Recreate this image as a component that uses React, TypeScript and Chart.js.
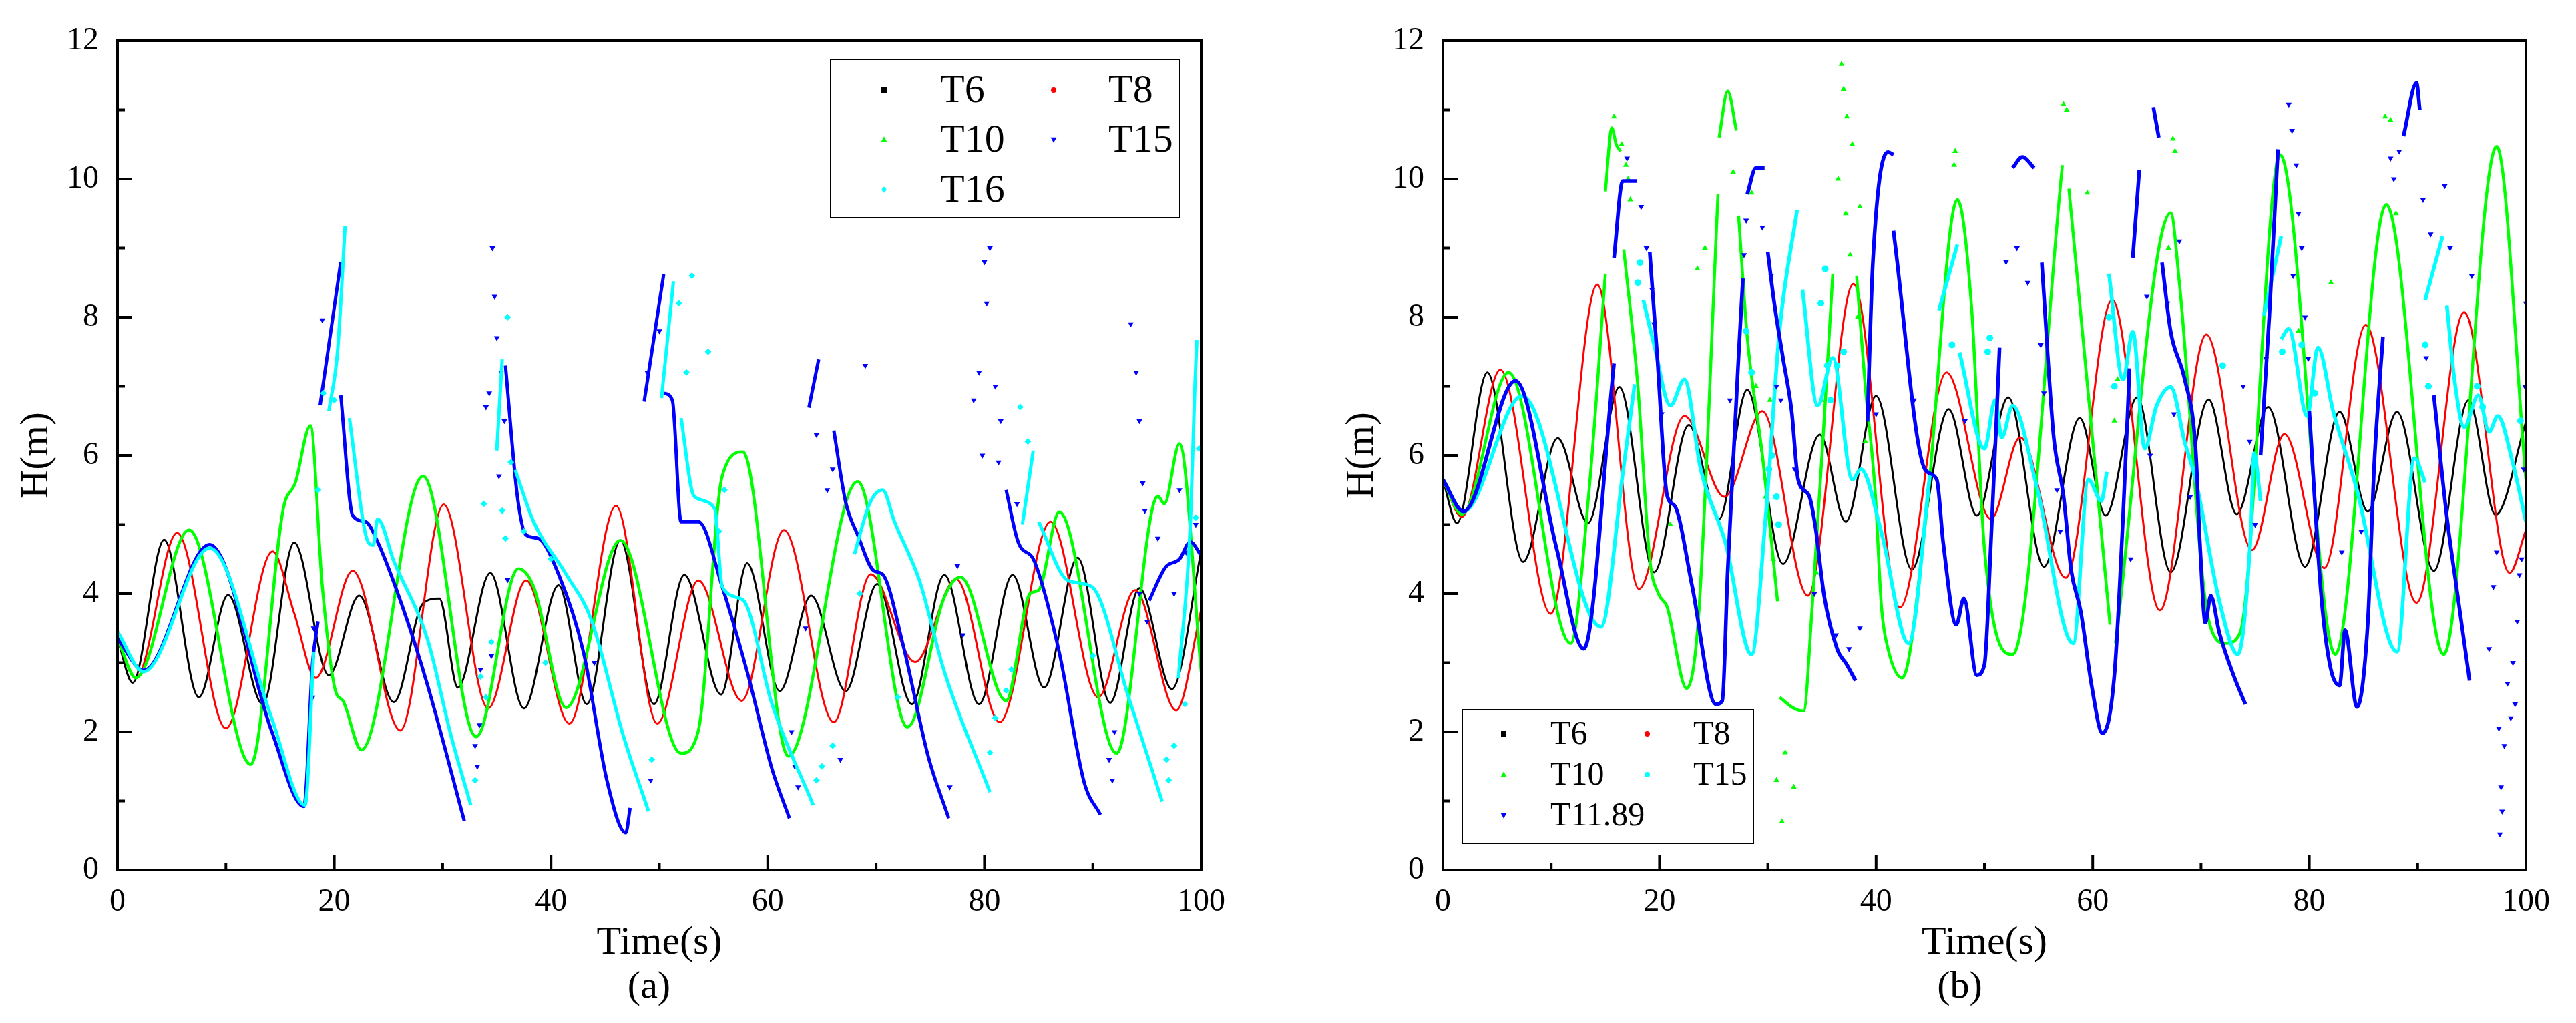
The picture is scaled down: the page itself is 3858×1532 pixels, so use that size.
import React, { useEffect, useRef } from 'react';
import { Chart, registerables } from 'chart.js';

Chart.register(...registerables);

type P = [number, number] | null;

// ---------------- Panel (a) ----------------
const A_T6: P[] = [[0,3.35],[1.4,2.71],[4.3,4.78],[7.5,2.5],[10.2,3.98],[13.4,2.4],[16.3,4.74],[19.5,2.82],[22.3,3.97],[25.5,2.43],[28.2,3.86],[29.7,3.93],[31.4,2.64],[34.4,4.3],[37.5,2.34],[40.7,4.12],[43.3,2.4],[46.4,4.77],[49.5,2.4],[52.3,4.27],[55.7,2.54],[58.1,4.44],[61.1,2.59],[64.0,3.97],[67.2,2.59],[70.1,4.14],[73.3,2.4],[76.3,4.27],[79.5,2.4],[82.6,4.27],[85.5,2.64],[88.6,4.52],[91.6,2.42],[94.3,4.08],[97.3,2.62],[100,4.61]];

const A_T8: P[] = [[0,3.35],[1.7,2.78],[5.5,4.88],[10.0,2.05],[14.3,4.61],[16.3,3.72],[18.3,2.78],[21.7,4.33],[26.1,2.02],[30.1,5.29],[34.2,2.34],[37.7,4.19],[41.7,2.12],[46.0,5.27],[49.8,2.12],[53.6,4.19],[57.6,2.45],[61.5,4.92],[66.1,2.14],[69.5,4.28],[73.6,3.01],[77.4,4.21],[81.4,2.14],[86.1,5.04],[90.5,2.5],[93.9,4.05],[97.7,2.31],[100,3.77]];

const A_T10: P[] = [[0,3.35],[1.7,2.78],[6.6,4.92],[12.3,1.53],[15.3,5.23],[16.4,5.6],[17.8,6.43],[18.9,4.1],[20.1,2.6],[20.8,2.45],[22.5,1.74],[28.2,5.7],[33.1,1.93],[37.0,4.36],[38.4,4.1],[41.4,2.35],[46.4,4.77],[52.0,1.69],[53.6,2.02],[55.8,5.7],[57.7,6.05],[61.9,1.65],[68.3,5.62],[72.9,2.07],[76.3,3.95],[77.8,4.24],[82.0,2.45],[84.2,4.0],[85.0,4.05],[86.9,5.18],[92.2,1.69],[96.0,5.41],[96.6,5.3],[98.0,6.17],[100,2.87]];

const A_T15: P[] = [[0,3.35],[2.4,2.89],[8.5,4.71],[14.2,2.02],[17.2,0.92],[18.0,3.0],[18.5,3.6],null,
  [18.7,6.73],[19.5,7.6],[20.6,8.8],null,
  [20.6,6.87],[21.7,5.13],[22.9,5.04],[24.0,4.75],[26.3,3.81],[28.6,2.68],[32.0,0.71],null,
  [35.8,7.3],[36.9,5.41],[37.7,4.85],[38.8,4.8],[40.7,4.28],[43.0,3.15],[45.2,1.27],[46.9,0.54],[47.3,0.9],null,
  [48.6,6.78],[50.4,8.62],null,
  [50.4,6.9],[51.2,6.8],[52.0,5.04],[53.6,5.04],[55.8,4.1],[58.1,2.87],[60.4,1.46],[62.0,0.75],null,
  [63.8,6.69],[64.7,7.39],null,
  [66.1,6.36],[67.2,5.32],[68.3,4.85],[69.8,4.33],[70.6,4.28],[72.5,3.25],[74.8,1.65],[76.7,0.75],null,
  [82.0,5.5],[83.1,4.75],[84.6,4.47],[86.9,3.15],[89.2,1.27],[90.7,0.8],null,
  [95.2,3.9],[96.7,4.38],[98.0,4.5],[99.0,4.75],[100,4.55]];

const A_T15_DOTS: P[] = [[18.9,7.96],[18.1,3.5],[18.0,2.5],[33.0,1.8],[33.2,1.5],[33.4,2.1],[34.0,6.7],[34.3,6.9],[34.6,9.0],[34.8,8.3],[35.0,7.7],[35.4,7.2],[35.7,6.5],[35.2,5.7],[34.5,3.1],[33.5,2.9],[36.0,4.2],[44.0,3.0],[49.2,1.3],[48.9,7.2],[50.0,7.8],[62.5,1.5],[62.8,1.2],[62.2,2.0],[63.5,3.5],[64.5,6.3],[65.5,5.5],[66.0,5.8],[66.7,1.6],[69.0,7.3],[76.8,1.2],[77.5,4.4],[78.0,3.4],[79.0,6.8],[79.5,7.2],[80.0,8.8],[80.5,9.0],[80.2,8.2],[81.0,7.0],[81.5,6.5],[79.8,6.0],[81.3,5.9],[83.0,5.3],[91.5,1.6],[91.8,1.3],[92.0,2.0],[93.5,7.9],[94.0,7.2],[94.3,6.5],[94.6,5.6],[94.8,5.2],[94.3,4.0],[95.0,3.6],[96.0,4.8],[97.5,4.0],[98.6,4.6],[99.5,5.0],[98.0,5.5]];

const A_T16: P[] = [[0,3.45],[2.4,2.87],[8.5,4.66],[14.2,2.21],[17.3,0.94],[18.1,3.15],null,
  [19.5,6.64],[20.3,7.5],[21.0,9.32],null,
  [21.4,6.54],[22.9,4.85],[23.6,4.7],[24.0,5.08],[25.5,4.47],[28.6,3.34],[30.8,1.93],[32.6,0.94],null,
  [35.0,6.07],[35.5,7.39],null,
  [36.7,5.79],[38.4,5.04],[41.4,4.28],[43.7,3.63],[46.7,1.93],[49.0,0.85],null,
  [50.2,6.83],[51.3,8.52],null,
  [52.0,6.54],[53.2,5.41],[55.1,5.23],[55.8,4.1],[57.7,3.91],[60.4,2.4],[64.2,0.94],null,
  [68.0,4.57],[69.4,5.3],[70.6,5.5],[71.7,5.04],[74.0,4.19],[76.3,2.87],[80.5,1.13],null,
  [83.5,5.0],[84.5,6.07],null,
  [85.0,5.04],[87.7,4.19],[89.9,4.1],[93.3,2.5],[96.4,0.99],null,
  [97.9,2.78],[99.0,5.0],[99.4,6.92],[99.6,7.67]];

const A_T16_DOTS: P[] = [[18.5,5.5],[19.0,6.9],[20.0,6.8],[33.5,2.8],[34.0,2.5],[34.5,3.3],[33.0,1.3],[35.5,5.2],[35.8,4.8],[36.0,8.0],[36.3,5.9],[33.8,5.3],[37.5,4.9],[39.5,3.0],[40.0,4.5],[51.8,8.2],[52.5,7.2],[53.0,8.6],[54.5,7.5],[56.0,5.5],[55.5,4.9],[49.3,1.6],[65.0,1.5],[66.0,1.8],[64.5,1.3],[68.5,4.0],[72.0,2.5],[80.5,1.7],[81.0,2.2],[82.0,2.6],[82.5,2.9],[83.3,6.7],[84.0,6.2],[90.0,3.1],[96.8,1.6],[97.0,1.3],[97.5,1.8],[98.5,2.4],[99.5,5.1],[99.8,6.1]];

// ---------------- Panel (b) ----------------
const B_T6: P[] = [[0,5.65],[1.3,5.02],[4.1,7.2],[7.4,4.46],[10.6,6.25],[13.4,5.02],[16.3,6.99],[19.5,4.31],[22.7,6.44],[25.5,5.08],[28.1,6.95],[31.4,4.43],[34.8,6.3],[37.2,5.04],[40.0,6.86],[43.3,4.35],[46.7,6.67],[49.3,5.13],[52.2,6.84],[55.5,4.39],[58.8,6.54],[61.2,5.13],[64.1,6.84],[67.2,4.31],[70.7,6.81],[73.3,5.15],[76.2,6.7],[79.6,4.39],[82.8,6.63],[85.4,5.19],[88.1,6.63],[91.5,4.33],[94.7,6.8],[97.2,5.14],[100,6.48]];

const B_T8: P[] = [[0,5.65],[1.75,5.11],[5.3,7.24],[9.95,3.71],[14.25,8.47],[18.1,4.07],[22.3,6.57],[26.0,5.4],[29.5,6.64],[33.7,3.97],[37.9,8.48],[42.2,3.8],[46.5,7.2],[50.6,5.08],[53.3,6.26],[57.5,4.23],[61.8,8.25],[66.2,3.76],[70.5,7.75],[74.7,4.63],[77.7,6.31],[81.4,4.37],[85.2,7.89],[89.9,3.87],[94.3,8.07],[98.5,4.3],[100,4.92]];

const B_T10: P[] = [[0,5.65],[1.75,5.15],[6.05,7.2],[11.8,3.28],[13.5,5.5],[15.0,8.63],null,
  [15.0,9.82],[15.6,10.74],[16.0,10.5],[16.4,10.4],null,
  [16.7,8.98],[18.0,7.0],[19.1,4.5],[19.9,4.0],[20.7,3.81],[22.5,2.63],[23.6,3.66],[25.4,9.78],null,
  [25.5,10.6],[26.3,11.27],[27.1,10.7],null,
  [27.3,9.47],[28.1,7.71],[29.5,6.0],[30.9,3.89],null,
  [31.1,2.5],[32.3,2.35],[33.3,2.3],[34.1,3.81],[35.2,6.5],[36.0,8.63],null,
  [38.2,8.6],[39.0,7.0],[39.9,5.5],[40.5,3.8],[41.1,3.2],[42.4,2.78],[44.6,5.1],[47.5,9.7],[48.8,8.17],[50,4.65],[52.6,3.12],[57.2,10.2],null,
  [57.8,9.86],[61.6,3.55],null,
  [62.1,3.28],[67.2,9.51],[68.0,8.5],[70.7,3.62],[72.3,3.28],[73.6,3.43],[77.3,10.35],[82.4,3.12],[87.1,9.63],[92.4,3.12],[97.3,10.47],[100,5.65]];

const B_T10_DOTS: P[] = [[15.8,10.9],[16.5,10.5],[16.9,10.2],[17.3,9.7],[17.1,10.0],[23.5,8.7],[24.2,9.0],[21.0,5.0],[26.8,10.1],[28.5,9.8],[28.9,7.0],[29.8,5.4],[30.5,4.5],[30.2,6.8],[30.8,1.3],[31.3,0.7],[31.6,1.7],[32.4,1.2],[36.5,10.0],[36.8,11.66],[37.0,11.3],[37.3,10.9],[37.8,10.5],[37.2,9.5],[37.6,8.9],[38.5,9.6],[38.3,8.0],[34.5,4.3],[35.0,6.8],[39.0,6.2],[47.3,10.4],[47.2,10.2],[57.3,11.08],[57.6,11.0],[59.5,9.8],[67.4,10.58],[67.6,10.4],[67.0,9.0],[62.0,6.5],[62.3,7.1],[79.0,7.8],[87.5,10.85],[87.0,10.9],[88.0,9.5],[82.0,8.5]];

const B_T15: P[] = [[0,5.65],[1.9,5.19],[7.3,6.86],[14.6,3.52],[16.6,5.73],[17.7,7.03],null,
  [18.5,8.25],[19.5,7.6],[21.0,6.72],[22.3,7.1],[23.8,5.8],[26.1,4.73],[28.5,3.12],[29.8,5.11],[31.1,7.83],[32.7,9.55],null,
  [33.2,8.4],[34.6,6.72],[36.0,7.41],[37.8,5.65],[38.6,5.8],[40.5,4.88],[43.0,3.28],[45.0,5.76],null,
  [45.8,8.1],[47.5,9.05],null,
  [47.7,7.49],[50,6.1],[51.0,6.8],[51.6,6.26],[52.6,6.72],[54.8,5.57],[58.2,3.28],[59.6,5.65],[60.8,5.34],[61.3,5.76],null,
  [61.5,8.63],[62.8,7.1],[63.7,7.79],[64.8,6.1],[65.9,6.72],[67.2,6.99],[68.5,6.19],[69.5,5.65],[71.7,3.89],[73.4,3.12],[74.6,4.88],[74.9,6.03],[75.5,5.34],null,
  [75.8,8.02],[77.4,9.17],null,
  [77.4,7.68],[78.1,7.83],[79.8,6.57],[80.8,7.56],[82.2,6.64],[84.4,5.5],[88.1,3.16],[89.7,5.96],[90.7,5.61],null,
  [90.7,8.25],[92.3,9.17],null,
  [92.7,8.17],[93.4,7.1],[94.3,6.41],[95.6,6.87],[96.6,6.34],[97.4,6.57],[98.8,5.88],[100,5.04]];

const B_T15_DOTS: P[] = [[18.2,8.79],[18.0,8.5],[28.0,7.8],[28.5,7.2],[30.1,5.8],[30.4,6.0],[30.8,5.4],[31.0,5.0],[35.5,7.3],[35.8,6.8],[36.4,7.3],[34.9,8.2],[35.3,8.7],[37.0,7.5],[47.0,7.6],[50.3,7.5],[50.5,7.7],[61.5,8.0],[62.0,7.0],[72.0,7.3],[77.5,7.5],[79.3,7.6],[80.5,6.9],[90.7,7.6],[91.0,7.0],[95.5,7.0],[96.0,6.7],[99.5,6.5]];

const B_T1189: P[] = [[0,5.65],[1.9,5.19],[6.7,7.08],[10.5,4.65],[13.0,3.2],[15.8,7.33],null,
  [15.8,8.86],[16.6,9.97],[17.9,9.97],null,
  [19.1,8.94],[19.8,7.41],[20.7,5.42],[21.4,5.27],[23.0,4.12],[25.2,2.4],[25.8,2.45],[26.3,4.35],[27.4,7.72],[27.7,8.56],null,
  [28.1,9.78],[28.9,10.16],[29.7,10.16],null,
  [30.0,8.94],[30.6,8.2],[31.4,7.41],[32.2,6.64],[32.8,5.65],[33.8,5.42],[34.4,4.96],[35.2,3.97],[36.4,3.2],[37.3,2.97],[38.1,2.74],null,
  [39.2,6.49],[39.7,8.79],[41.1,10.39],[41.6,10.35],null,
  [41.6,9.25],[44.5,5.8],[45.6,5.65],[46.2,4.73],[47.4,3.55],[48.1,3.93],[49.3,2.82],[50,2.97],[50.6,4.73],[51.4,7.56],null,
  [52.6,10.16],[53.5,10.32],[54.6,10.16],null,
  [55.3,8.79],[56.4,6.26],[57.3,5.42],[58.0,4.35],[58.9,3.74],[59.9,2.67],[60.9,1.98],[62.0,2.82],[62.8,5.11],[63.4,7.26],null,
  [63.7,8.86],[64.3,10.13],null,
  [65.6,11.04],[66.1,10.6],null,
  [66.4,8.79],[67.2,7.79],[68.5,7.1],[69.5,6.1],[69.9,4.73],[70.4,3.58],[70.9,3.97],[71.7,3.43],[73.0,2.82],[74.1,2.4],null,
  [75.5,6.0],[76.3,8.0],[77.1,10.43],null,
  [80.0,6.64],[81.1,3.97],[81.9,2.97],[82.8,2.67],[83.3,3.47],[84.4,2.36],[85.4,3.58],[86.0,5.88],[86.8,7.72],null,
  [88.7,10.62],[89.9,11.39],[90.2,11.0],null,
  [91.5,6.87],[92.7,5.11],[93.7,3.97],[94.8,2.74]];

const B_T1189_DOTS: P[] = [[17.0,10.3],[18.3,9.6],[18.8,9.0],[19.3,8.4],[19.5,7.9],[20.2,6.6],[26.5,6.8],[27.8,8.9],[28.0,9.4],[29.5,9.3],[30.3,8.6],[30.8,7.0],[31.2,6.8],[32.5,5.8],[34.3,4.0],[36.3,3.4],[37.5,3.2],[38.5,3.5],[40.0,6.6],[43.5,6.8],[48.2,6.5],[52.0,8.8],[53.0,9.0],[54.0,8.5],[55.2,7.6],[55.5,6.9],[56.7,5.5],[57.0,4.9],[63.5,4.5],[65.0,8.3],[65.3,6.0],[66.9,8.2],[67.5,6.6],[68.0,9.1],[69.0,5.4],[73.9,7.0],[74.5,6.2],[75.0,5.0],[76.0,7.4],[78.1,11.08],[78.4,10.7],[78.8,10.2],[79.0,9.5],[79.3,9.0],[79.6,8.0],[79.9,7.4],[78.5,8.6],[83.0,4.6],[84.8,4.9],[87.5,10.3],[87.8,10.0],[88.3,10.4],[90.5,9.7],[90.8,7.41],[91.2,9.2],[92.5,9.9],[93.0,9.0],[95.0,8.6],[96.6,3.2],[97.0,4.1],[97.3,4.6],[97.5,2.05],[97.7,1.2],[97.6,0.52],[97.8,0.85],[98.0,1.8],[98.3,2.7],[98.6,2.2],[98.8,3.0],[99.0,2.4],[99.2,3.6],[99.4,4.27],[99.6,4.5],[99.8,5.8],[99.9,7.0],[100,8.2]];

// axis ranges / ticks
const X_RANGE = [0, 100];
const X_MAJOR = 20;
const X_MINOR = 10;
const Y_RANGE = [0, 12];
const Y_MAJOR = 2;
const Y_MINOR = 1;

const FONT = "'Liberation Serif', 'Times New Roman', serif";

function xy(arr: P[]) {
  const out: { x: number; y: number | null }[] = [];
  let last = 0;
  for (const p of arr) {
    if (p === null) out.push({ x: last, y: null });
    else { out.push({ x: p[0], y: p[1] }); last = p[0]; }
  }
  return out;
}

function drawMarker(ctx: CanvasRenderingContext2D, style: string, x: number, y: number, r: number, color: string) {
  ctx.fillStyle = color;
  ctx.beginPath();
  if (style === 'rect') ctx.rect(x - r, y - r, 2 * r, 2 * r);
  else if (style === 'circle') ctx.arc(x, y, r, 0, Math.PI * 2);
  else if (style === 'tri') { ctx.moveTo(x, y - r * 1.2); ctx.lineTo(x + r * 1.1, y + r * 0.8); ctx.lineTo(x - r * 1.1, y + r * 0.8); ctx.closePath(); }
  else if (style === 'dtri') { ctx.moveTo(x, y + r * 1.2); ctx.lineTo(x + r * 1.1, y - r * 0.8); ctx.lineTo(x - r * 1.1, y - r * 0.8); ctx.closePath(); }
  else { ctx.moveTo(x, y - r * 1.2); ctx.lineTo(x + r, y); ctx.lineTo(x, y + r * 1.2); ctx.lineTo(x - r, y); ctx.closePath(); }
  ctx.fill();
}

const decorPlugin = {
  id: 'decor',
  afterDraw(chart: any, _args: any, o: any) {
    const { ctx, chartArea: ca, scales } = chart;
    ctx.save();
    ctx.strokeStyle = '#000';
    ctx.lineWidth = 4;
    ctx.strokeRect(ca.left, ca.top, ca.right - ca.left, ca.bottom - ca.top);
    for (let v = X_RANGE[0]; v <= X_RANGE[1]; v += X_MINOR) {
      const px = scales.x.getPixelForValue(v);
      const len = v % X_MAJOR === 0 ? 22 : 11;
      ctx.beginPath(); ctx.moveTo(px, ca.bottom); ctx.lineTo(px, ca.bottom - len); ctx.stroke();
    }
    for (let v = Y_RANGE[0]; v <= Y_RANGE[1]; v += Y_MINOR) {
      const py = scales.y.getPixelForValue(v);
      const len = v % Y_MAJOR === 0 ? 22 : 11;
      ctx.beginPath(); ctx.moveTo(ca.left, py); ctx.lineTo(ca.left + len, py); ctx.stroke();
    }
    // legend
    const lg = o.legend;
    ctx.fillStyle = '#fff';
    ctx.fillRect(lg.box[0], lg.box[1], lg.box[2], lg.box[3]);
    ctx.lineWidth = 2;
    ctx.strokeRect(lg.box[0], lg.box[1], lg.box[2], lg.box[3]);
    ctx.font = `${lg.size}px ${FONT}`;
    ctx.textBaseline = 'middle';
    ctx.textAlign = 'left';
    for (const it of lg.items) {
      drawMarker(ctx, it.style, it.mx, it.y, 4, it.color);
      ctx.fillStyle = '#000';
      ctx.fillText(it.label, it.tx, it.y + 2);
    }
    // panel tag
    ctx.font = `${o.tag.size}px ${FONT}`;
    ctx.textAlign = 'center';
    ctx.fillStyle = '#000';
    ctx.fillText(o.tag.text, o.tag.x, o.tag.y);
    ctx.restore();
  },
};

interface Series { label: string; color: string; style: string; width: number; line: P[]; dots: P[] }

const SERIES_A: Series[] = [
  { label: 'T6', color: '#000000', style: 'rect', width: 3, line: A_T6, dots: [] },
  { label: 'T8', color: '#ff0000', style: 'circle', width: 3, line: A_T8, dots: [] },
  { label: 'T10', color: '#00ff00', style: 'tri', width: 4.5, line: A_T10, dots: [] },
  { label: 'T15', color: '#0000ff', style: 'dtri', width: 5, line: A_T15, dots: A_T15_DOTS },
  { label: 'T16', color: '#00ffff', style: 'diamond', width: 5, line: A_T16, dots: A_T16_DOTS },
];

const SERIES_B: Series[] = [
  { label: 'T6', color: '#000000', style: 'rect', width: 3, line: B_T6, dots: [] },
  { label: 'T8', color: '#ff0000', style: 'circle', width: 3, line: B_T8, dots: [] },
  { label: 'T10', color: '#00ff00', style: 'tri', width: 4.5, line: B_T10, dots: B_T10_DOTS },
  { label: 'T15', color: '#00ffff', style: 'circle', width: 5.5, line: B_T15, dots: B_T15_DOTS },
  { label: 'T11.89', color: '#0000ff', style: 'dtri', width: 5.5, line: B_T1189, dots: B_T1189_DOTS },
];

interface PanelCfg {
  left: number;
  yWidth: number;
  padRight: number;
  yTitlePad: number;
  series: Series[];
  legend: any;
  tag: any;
}

const dotStyle: Record<string, string> = { rect: 'rect', circle: 'circle', tri: 'triangle', dtri: 'triangle', diamond: 'rectRot' };

function Panel({ cfg }: { cfg: PanelCfg }) {
  const ref = useRef<HTMLCanvasElement>(null);
  useEffect(() => {
    const n = cfg.series.length;
    const datasets: any[] = [];
    cfg.series.forEach((s, i) => {
      datasets.push({
        type: 'line', label: s.label, data: xy(s.line), borderColor: s.color, backgroundColor: s.color,
        borderWidth: s.width, pointRadius: 0, spanGaps: false, cubicInterpolationMode: 'monotone', fill: false,
        order: 2 * (n - i),
      });
      if (s.dots.length) {
        datasets.push({
          type: 'scatter', label: s.label + ' pts', data: xy(s.dots), backgroundColor: s.color, borderColor: s.color,
          pointRadius: 5, pointStyle: dotStyle[s.style], rotation: s.style === 'dtri' ? 180 : 0, borderWidth: 0,
          order: 2 * (n - i) - 1,
        });
      }
    });
    const chart = new Chart(ref.current as HTMLCanvasElement, {
      type: 'line',
      data: { datasets },
      plugins: [decorPlugin],
      options: {
        responsive: false,
        animation: false,
        devicePixelRatio: 1,
        events: [],
        layout: { padding: { left: 0, top: 61, right: cfg.padRight, bottom: 0 } },
        plugins: {
          legend: { display: false },
          tooltip: { enabled: false },
          decor: { legend: cfg.legend, tag: cfg.tag },
        } as any,
        scales: {
          x: {
            type: 'linear', min: X_RANGE[0], max: X_RANGE[1], position: 'bottom',
            ticks: { stepSize: X_MAJOR, color: '#000', padding: 20, maxRotation: 0, autoSkip: false, font: { family: FONT, size: 48 } },
            grid: { display: false, drawTicks: false, drawOnChartArea: false },
            border: { display: false },
            title: { display: true, text: 'Time(s)', color: '#000', font: { family: FONT, size: 60 }, padding: { top: 0, bottom: 84 } },
            afterFit: (s: any) => { s.height = 229; },
          },
          y: {
            type: 'linear', min: Y_RANGE[0], max: Y_RANGE[1],
            ticks: { stepSize: Y_MAJOR, color: '#000', padding: 28, font: { family: FONT, size: 48 } },
            grid: { display: false, drawTicks: false, drawOnChartArea: false },
            border: { display: false },
            title: { display: true, text: 'H(m)', color: '#000', font: { family: FONT, size: 60 }, padding: { top: cfg.yTitlePad, bottom: 0 } },
            afterFit: (s: any) => { s.width = cfg.yWidth; },
          },
        },
      } as any,
    });
    return () => chart.destroy();
  }, []);
  return (
    <canvas
      ref={ref}
      width={1929}
      height={1532}
      style={{ position: 'absolute', left: cfg.left, top: 0, width: 1929, height: 1532 }}
    />
  );
}

const S = (arr: Series[], i: number) => ({ label: arr[i].label, color: arr[i].color, style: arr[i].style });

const PANEL_A: PanelCfg = {
  left: 0, yWidth: 176, padRight: 130, yTitlePad: 19, series: SERIES_A,
  legend: {
    box: [1244, 89, 523, 237], size: 60,
    items: [
      { ...S(SERIES_A, 0), mx: 1324, tx: 1408, y: 135 },
      { ...S(SERIES_A, 1), mx: 1578, tx: 1660, y: 135 },
      { ...S(SERIES_A, 2), mx: 1324, tx: 1408, y: 209 },
      { ...S(SERIES_A, 3), mx: 1578, tx: 1660, y: 209 },
      { ...S(SERIES_A, 4), mx: 1324, tx: 1408, y: 284 },
    ],
  },
  tag: { text: '(a)', x: 972, y: 1479, size: 58 },
};

const PANEL_B: PanelCfg = {
  left: 1929, yWidth: 232, padRight: 75, yTitlePad: 75, series: SERIES_B,
  legend: {
    box: [261, 1063, 436, 200], size: 50,
    items: [
      { ...S(SERIES_B, 0), mx: 323, tx: 393, y: 1099 },
      { ...S(SERIES_B, 1), mx: 538, tx: 607, y: 1099 },
      { ...S(SERIES_B, 2), mx: 323, tx: 393, y: 1160 },
      { ...S(SERIES_B, 3), mx: 538, tx: 607, y: 1160 },
      { ...S(SERIES_B, 4), mx: 323, tx: 393, y: 1221 },
    ],
  },
  tag: { text: '(b)', x: 1006, y: 1479, size: 58 },
};

export default function App() {
  return (
    <div style={{ position: 'absolute', left: 0, top: 0, width: 3858, height: 1532, background: '#fff', overflow: 'hidden' }}>
      <Panel cfg={PANEL_A} />
      <Panel cfg={PANEL_B} />
    </div>
  );
}
